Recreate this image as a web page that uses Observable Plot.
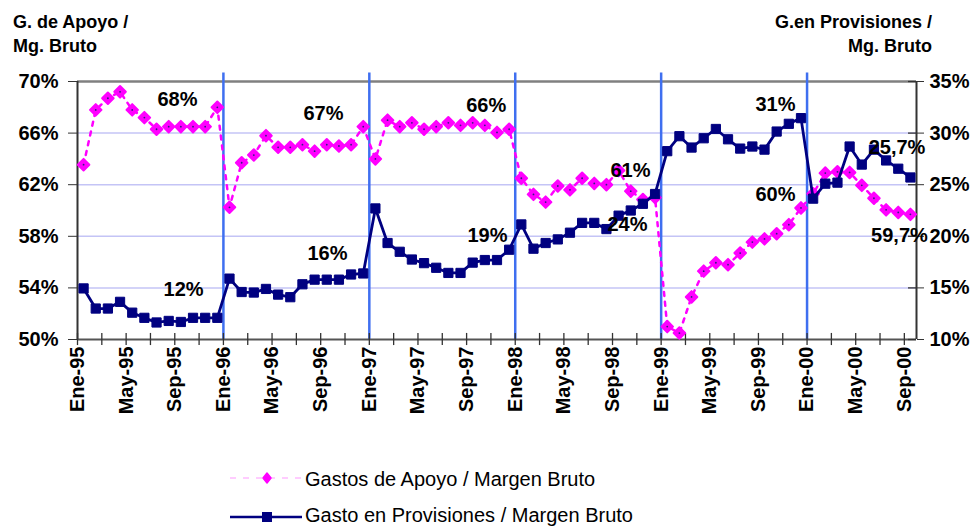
<!DOCTYPE html>
<html>
<head>
<meta charset="utf-8">
<script src="https://cdn.jsdelivr.net/npm/d3@7"></script>
<script src="https://cdn.jsdelivr.net/npm/@observablehq/plot@0.6"></script>
<style>
  body { margin: 0; background: #fff; }
  #wrap { position: relative; width: 978px; height: 527px; font-family: "Liberation Sans", Arial, sans-serif; }
  #chart { position: absolute; left: 0; top: 0; }
  .ttl { position: absolute; font-size: 18px; font-weight: bold; line-height: 24px; color: #000; white-space: nowrap; }
  #legend { position: absolute; left: 0; top: 440px; }
</style>
</head>
<body>
<div id="wrap">
  <div id="chart"></div>
  <div class="ttl" style="left:13px; top:10px;">G. de Apoyo /<br>Mg. Bruto</div>
  <div class="ttl" style="right:46px; top:10px; text-align:right;">G.en Provisiones /<br>Mg. Bruto</div>
  <svg id="legend" width="700" height="87"></svg>
</div>
<script>
// ---- data ----
const monthNames = ["Ene","Feb","Mar","Abr","May","Jun","Jul","Ago","Sep","Oct","Nov","Dic"];
const years = ["95","96","97","98","99","00"];
const months = years.flatMap(y => monthNames.map(m => `${m}-${y}`)).slice(0, 69);

// Gastos de Apoyo / Margen Bruto (left axis, %)
const apoyo = [
  63.55, 67.8, 68.7, 69.2, 67.8, 67.2, 66.3, 66.5, 66.5, 66.5, 66.5, 68.0,
  60.25, 63.7, 64.3, 65.8, 64.9, 64.9, 65.1, 64.6, 65.1, 65.0, 65.1, 66.5,
  64.0, 67.0, 66.5, 66.8, 66.3, 66.5, 66.8, 66.6, 66.8, 66.6, 66.05, 66.3,
  62.5, 61.25, 60.65, 61.9, 61.6, 62.5, 62.1, 62.0, 63.1, 61.5, 60.85, 61.0,
  51.0, 50.5, 53.3, 55.3, 55.95, 55.8, 56.7, 57.55, 57.8, 58.2, 58.9, 60.2,
  61.3, 62.9, 63.0, 62.95, 61.95, 60.95, 60.05, 59.85, 59.7
];
// Gasto en Provisiones / Margen Bruto (right axis, %)
const provisiones = [
  14.95, 13.0, 13.0, 13.65, 12.6, 12.1, 11.65, 11.8, 11.7, 12.1, 12.1, 12.1,
  15.9, 14.6, 14.55, 14.9, 14.35, 14.1, 15.35, 15.8, 15.8, 15.8, 16.3, 16.4,
  22.7, 19.35, 18.5, 17.75, 17.4, 16.95, 16.45, 16.45, 17.45, 17.7, 17.7, 18.7,
  21.15, 18.8, 19.35, 19.7, 20.35, 21.3, 21.3, 20.7, 22.0, 22.5, 23.15, 24.1,
  28.25, 29.7, 28.6, 29.5, 30.4, 29.4, 28.5, 28.7, 28.4, 30.15, 30.9, 31.45,
  23.65, 25.1, 25.2, 28.7, 26.95, 28.4, 27.35, 26.55, 25.7
];
const leftTicks = [50, 54, 58, 62, 66, 70];
const rightTicks = [10, 15, 20, 25, 30, 35];
const gridValues = [54, 58, 62, 66];
const yearStarts = ["Ene-96", "Ene-97", "Ene-98", "Ene-99", "Ene-00"];
// annotations: month position (index) and value on left axis
const notes = [
  {text: "68%", x: 7.72, y: 68.6},
  {text: "67%", x: 19.73, y: 67.52},
  {text: "12%", x: 8.22, y: 53.88},
  {text: "16%", x: 20.06, y: 56.67},
  {text: "66%", x: 33.11, y: 68.14},
  {text: "19%", x: 33.22, y: 58.06},
  {text: "61%", x: 44.98, y: 63.06},
  {text: "24%", x: 44.73, y: 58.91},
  {text: "31%", x: 56.9, y: 68.22},
  {text: "60%", x: 56.9, y: 61.2},
  {text: "25,7%", x: 66.9, y: 64.88},
  {text: "59,7%", x: 67.1, y: 58.02}
];
const legendItems = ["Gastos de Apoyo / Margen Bruto", "Gasto en Provisiones / Margen Bruto"];

// ---- derived ----
const toLeft = v => 50 + (v - 10) * 0.8;           // right-axis value -> left-axis units
const fromLeft = v => 10 + (v - 50) * 1.25;
const table = months.map((m, i) => ({i, m, apoyo: apoyo[i], prov: toLeft(provisiones[i])}));
const n = months.length;
const xMin = -0.5, xMax = n - 0.5;
const boundaryTicks = d3.range(0, n, 2).map(i => i - 0.5);
const labelTicks = d3.range(0, n, 4).map(i => i - 0.5);
const yearLines = yearStarts.map(m => months.indexOf(m) - 0.5);

const PINK = "#ff00ff", NAVY = "#000080", VLINE = "#3f6ff0";

const chart = Plot.plot({
  width: 978,
  height: 440,
  marginTop: 81,
  marginBottom: 101,
  marginLeft: 77,
  marginRight: 62,
  x: {type: "linear", domain: [xMin, xMax], label: null, axis: null},
  y: {domain: [50, 70], label: null, axis: null},
  style: {fontFamily: "'Liberation Sans', Arial, sans-serif", fontSize: "20px", fontWeight: "bold", color: "#000", background: "transparent", overflow: "visible"},
  marks: [
    Plot.ruleY(gridValues, {stroke: "#c4c4f6", strokeWidth: 1.5}),
    Plot.ruleY([70], {x1: xMin, x2: xMax, stroke: "#808080", strokeWidth: 2.5}),
    Plot.ruleX(yearLines, {y1: 50, y2: 70.65, stroke: VLINE, strokeWidth: 2.5}),
    Plot.ruleY([50], {x1: xMin, x2: xMax, stroke: "#555", strokeWidth: 2}),
    Plot.ruleX([xMin, xMax], {y1: 50, y2: 70, stroke: "#333", strokeWidth: 2}),
    Plot.ruleX(boundaryTicks, {y1: 49.53, y2: 50.47, stroke: "#333", strokeWidth: 1.3}),
    Plot.ruleY(leftTicks, {x1: xMax - 0.66, x2: xMax, stroke: "#333", strokeWidth: 1.3}),
    Plot.axisY({anchor: "left", ticks: leftTicks, tickFormat: d => d + "%", tickSize: 9, tickPadding: 10, label: null, stroke: "#333"}),
    Plot.axisY({anchor: "right", ticks: rightTicks.map(toLeft), tickFormat: d => Math.round(fromLeft(d)) + "%", tickSize: 7, tickPadding: 6, label: null, stroke: "#333"}),
    Plot.axisX({ticks: labelTicks, tickFormat: d => months[Math.round(d + 0.5)], tickRotate: -90, tickSize: 0, tickPadding: 7, label: null}),
    // Gastos de Apoyo
    Plot.line(table, {x: "i", y: "apoyo", stroke: PINK, strokeWidth: 2.5, strokeDasharray: "4,6"}),
    Plot.dot(table, {x: "i", y: "apoyo", symbol: "diamond2", r: 5.2, fill: PINK, stroke: PINK, strokeWidth: 2, strokeLinejoin: "round"}),
    Plot.dot(table, {x: "i", y: "apoyo", r: 0.9, fill: "#302080", stroke: "none"}),
    // Gasto en Provisiones
    Plot.line(table, {x: "i", y: "prov", stroke: NAVY, strokeWidth: 2.8}),
    Plot.dot(table, {x: "i", y: "prov", symbol: "square", r: 5.2, fill: NAVY, stroke: NAVY, strokeWidth: 1}),
    // labels
    Plot.text(notes, {x: "x", y: "y", text: "text", fill: "#000", fontSize: 20, fontWeight: "bold"})
  ]
});
document.getElementById("chart").appendChild(chart);

// ---- legend ----
const leg = d3.select("#legend");
const rows = [
  {label: legendItems[0], y: 38, base: 46, kind: "apoyo"},
  {label: legendItems[1], y: 77, base: 82, kind: "prov"}
];
rows.forEach(r => {
  const g = leg.append("g");
  if (r.kind === "apoyo") {
    g.append("line").attr("x1", 230).attr("x2", 302).attr("y1", r.y).attr("y2", r.y)
      .attr("stroke", "#ff99ff").attr("stroke-width", 1).attr("stroke-dasharray", "6,7");
    g.append("path").attr("d", `M267,${r.y - 5}L271,${r.y}L267,${r.y + 5}L263,${r.y}Z`)
      .attr("fill", PINK).attr("stroke", PINK).attr("stroke-width", 1.5).attr("stroke-linejoin", "round");
  } else {
    g.append("line").attr("x1", 230).attr("x2", 302).attr("y1", r.y).attr("y2", r.y)
      .attr("stroke", NAVY).attr("stroke-width", 2.5);
    g.append("rect").attr("x", 262).attr("y", r.y - 5).attr("width", 10).attr("height", 10).attr("fill", NAVY);
  }
  g.append("text").attr("x", 305).attr("y", r.base)
    .attr("font-family", "'Liberation Sans', Arial, sans-serif").attr("font-size", 20)
    .attr("fill", "#000").text(r.label);
});
</script>
</body>
</html>
